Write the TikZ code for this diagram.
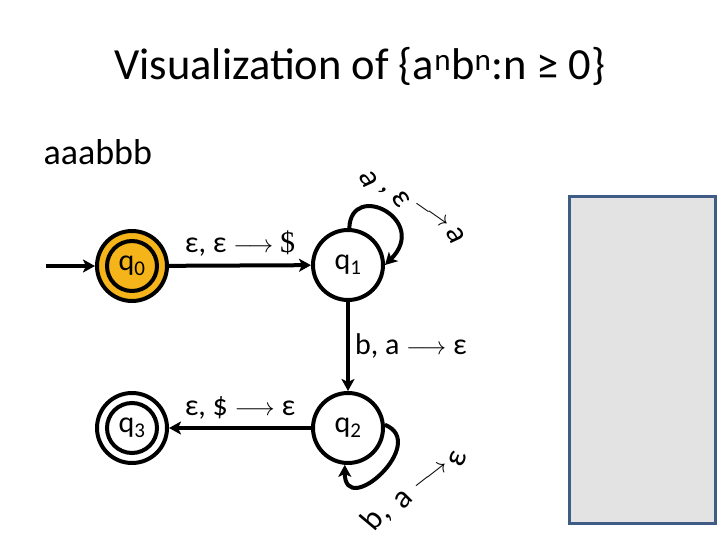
\documentclass[tikz,border=0pt]{standalone}
\usepackage{fontspec}
\setmainfont{Carlito}
\newfontfamily\serifdollar{Liberation Serif}
\usetikzlibrary{arrows.meta}
\definecolor{startorange}{HTML}{F4B41A}
\definecolor{panelfill}{HTML}{E3E3E3}
\definecolor{panelborder}{HTML}{3E5C84}
\begin{document}
\begin{tikzpicture}[x=1pt,y=-1pt,
  state/.style={circle,draw=black,line width=4pt,minimum size=70pt,inner sep=0pt,font=\fontsize{30}{32}\selectfont},
  arr/.style={line width=4pt,-{Stealth[length=12pt,width=13pt,inset=3pt]}},
  lbl/.style={font=\fontsize{30}{32}\selectfont,inner sep=1pt},
  rl/.style={font=\fontsize{32}{34}\selectfont,inner sep=0pt}]
\useasboundingbox (0,0) rectangle (720,540);
% title
\node[font=\fontsize{44.5}{50}\selectfont] (title) at (360,66) {Visualization of \{a\textsuperscript{n}b\textsuperscript{n}:n ≥ 0\}};
\node[font=\fontsize{36}{40}\selectfont,anchor=west] (word) at (40,152) {aaabbb};
% panel
\node[draw=panelborder,fill=panelfill,line width=3pt,minimum width=146pt,minimum height=326pt,inner sep=0pt] (panel) at (642,360) {};
% states
\node[state,fill=startorange] (q0) at (132,266) {q\textsubscript{0}};
\draw[line width=4pt] (q0.center) circle[radius=25];
\node[state] (q1) at (348,265) {q\textsubscript{1}};
\node[state] (q2) at (348,428) {q\textsubscript{2}};
\node[state] (q3) at (132,428) {q\textsubscript{3}};
\draw[line width=4pt] (q3.center) circle[radius=25];
% initial arrow
\coordinate (init) at (46,266);
\draw[arr] (init) -- (q0);
% transitions
\draw[arr] (q0) -- (q1) node[midway,above=6pt,lbl] (t01) {ε, ε $\longrightarrow$ {\serifdollar\$}};
\draw[arr] (q1) -- (q2) node[midway,right=4pt,lbl] (t12) {b, a $\longrightarrow$ ε};
\draw[arr] (q2) -- (q3) node[midway,above=6pt,lbl] (t23) {ε, \$ $\longrightarrow$ ε};
% self loops
\draw[arr] (q1.88) .. controls +(2,-48) and +(45,-45) .. (q1.0);
\draw[arr] (q2.5) .. controls +(45,18) and +(0,55) .. (q2.265);
% rotated label on q1 loop
\node[rl,rotate=-65] (la1) at (369,179) {a};
\node[rl,rotate=-55] (la2) at (383,191) {,};
\node[rl,rotate=-55] (la3) at (401,199) {ε};
\node[rl,rotate=-35] (la4) at (431,215) {$\longrightarrow$};
\node[rl,rotate=-65] (la5) at (456,235) {a};
% rotated label on q2 loop
\node[rl,rotate=50] (lb1) at (371,519) {b};
\node[rl,rotate=45] (lb2) at (389,518) {,};
\node[rl,rotate=45] (lb3) at (404,500) {a};
\node[rl,rotate=38] (lb4) at (431,477) {$\longrightarrow$};
\node[rl,rotate=70] (lb5) at (458,459) {ε};
\end{tikzpicture}
\end{document}
